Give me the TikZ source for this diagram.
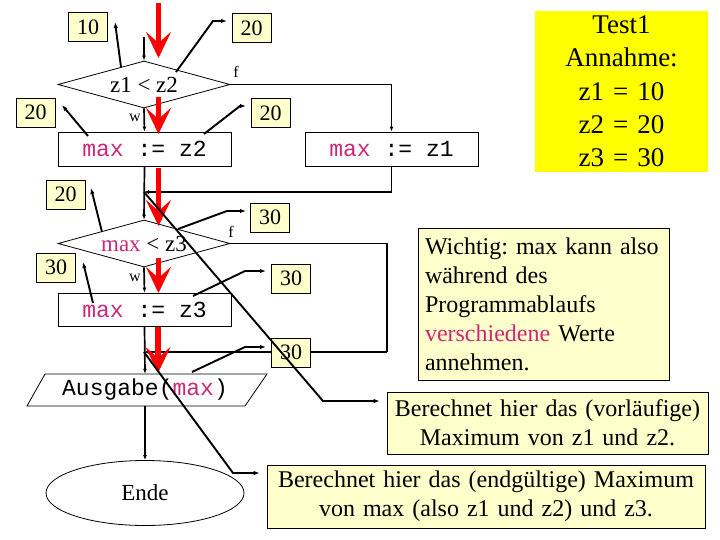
\documentclass[tikz,border=0pt]{standalone}
\usepackage{fontspec}
\setmainfont{Liberation Serif}
\setmonofont{Liberation Mono}
\usetikzlibrary{shapes.geometric,arrows.meta,calc}
\definecolor{mag}{RGB}{204,40,120}
\definecolor{pale}{RGB}{255,255,204}
\definecolor{yel}{RGB}{255,255,0}
\begin{document}
\begin{tikzpicture}[x=1pt,y=-1pt,
  flow/.style={line width=1.7pt,-{Latex[length=5pt,width=4pt]}},
  plain/.style={line width=1.7pt},
  ptr/.style={line width=1.9pt,-{Latex[length=6pt,width=4.5pt]}},
  redarr/.style={red,line width=5.5pt,-{Stealth[length=26pt,width=25pt,inset=11pt]}},
  numbox/.style={draw,line width=0.8pt,fill=pale,minimum width=39pt,minimum height=29pt,inner sep=0pt,font=\fontsize{22}{26}\selectfont},
  proc/.style={draw,line width=0.8pt,fill=white,minimum width=173pt,minimum height=34pt,inner sep=0pt,font=\ttfamily\fontsize{23}{27}\selectfont},
  dec/.style={draw,line width=0.8pt,diamond,aspect=3.66,minimum width=172pt,minimum height=47pt,inner sep=0pt,font=\fontsize{23}{27}\selectfont},
  lbl/.style={inner sep=0pt,font=\fontsize{16}{18}\selectfont},
  note/.style={draw,line width=0.8pt,fill=pale,inner sep=0pt,font=\frenchspacing\fontsize{24}{29}\selectfont}
]
\useasboundingbox (0,0) rectangle (720,540);

% main shapes
\node[dec] (d1) at (144,84.5) {z1 < z2};
\node[proc] (b2) at (144.5,149) {\textcolor{mag}{max} := z2};
\node[proc] (b1) at (391.5,149) {\textcolor{mag}{max} := z1};
\node[dec] (d2) at (144,243.5) {\textcolor{mag}{max} < z3};
\node[proc,minimum height=33pt] (b3) at (144.5,309.5) {\textcolor{mag}{max} := z3};
\node[inner sep=0pt,minimum width=200pt,minimum height=32pt,font=\ttfamily\fontsize{23}{27}\selectfont] (aus) at (145,390) {Ausgabe(\textcolor{mag}{max})};
\draw[line width=0.8pt] ([shift={(-100,-16)}]aus.center) -- ([shift={(122,-16)}]aus.center) -- ([shift={(100,16)}]aus.center) -- ([shift={(-118,16)}]aus.center) -- cycle;
\node[draw,line width=0.8pt,ellipse,minimum width=198pt,minimum height=65pt,inner sep=0pt,font=\fontsize{23}{27}\selectfont] (ende) at (145,493) {Ende};

% labels
\node[lbl] (f1) at (236,72) {f};
\node[lbl] (f2) at (231,232) {f};
\node[lbl] (w1) at (135,118) {w};
\node[lbl] (w2) at (135,278) {w};

% flow coordinates
\coordinate (start) at (144,37);
\coordinate (j1) at (144,192);
\coordinate (j2) at (144,352);
\coordinate (r2) at (387,352);

% flow lines
\draw[flow] (start) -- (d1.north);
\draw[flow] (d1.east) -| (b1.north);
\draw[flow] (d1.south) -- (b2.north);
\draw[flow] (b1.south) |- (j1);
\draw[flow] (b2.south) -- (d2.north);
\draw[plain] (d2.east) -| (r2);
\draw[flow] (r2) -- (j2);
\draw[flow] (d2.south) -- (b3.north);
\draw[flow] (b3.south) -- (aus.north);
\draw[flow] (aus.south) -- (ende.north);

% value boxes
\node[numbox] (n10) at (88,27) {10};
\node[numbox] (n20a) at (251.5,28) {20};
\node[numbox] (n20b) at (35.5,112.5) {20};
\node[numbox] (n20c) at (270.5,113) {20};
\node[numbox] (n20d) at (65.5,194.5) {20};
\node[numbox] (n30a) at (270,217.5) {30};
\node[numbox] (n30b) at (56,267.5) {30};
\node[numbox] (n30c) at (291,278.5) {30};
\node[numbox] (n30d) at (291,352.5) {30};

% notes
\node[fill=yel,inner sep=0pt,minimum width=173pt,minimum height=161pt,text width=173pt,align=center,font=\fontsize{27}{33.3}\selectfont] (test) at (621.5,91.5) {Test1\\Annahme:\\z1 = 10\\z2 = 20\\z3 = 30};
\node[note,inner xsep=7pt,text width=237pt,minimum height=152pt,align=left] (wich) at (543.5,304) {Wichtig: max kann also\\während des\\Programmablaufs\\\textcolor{mag}{verschiedene} Werte\\annehmen.};
\node[note,minimum width=321pt,minimum height=62pt,text width=321pt,align=center] (ber1) at (547.5,423) {Berechnet hier das (vorläufige)\\Maximum von z1 und z2.};
\node[note,minimum width=438pt,minimum height=63pt,text width=438pt,align=center] (ber2) at (486,496.5) {Berechnet hier das (endgültige) Maximum\\von max (also z1 und z2) und z3.};

% red arrows
\coordinate (ra1) at (158.5,3);   \coordinate (rb1) at (158.5,58);
\coordinate (ra2) at (158.5,97);  \coordinate (rb2) at (158.5,134);
\coordinate (ra3) at (158.5,168); \coordinate (rb3) at (158.5,226);
\coordinate (ra4) at (158.5,258); \coordinate (rb4) at (158.5,293);
\coordinate (ra5) at (158,327);   \coordinate (rb5) at (158,373);
\draw[redarr] (ra1) -- (rb1);
\draw[redarr] (ra2) -- (rb2);
\draw[redarr] (ra3) -- (rb3);
\draw[redarr] (ra4) -- (rb4);
\draw[redarr] (ra5) -- (rb5);

% pointer lines
\coordinate (p1) at (121,67);  \coordinate (q1) at (115,22);
\coordinate (p2) at (176,72);  \coordinate (q2) at (227,21);
\coordinate (p3) at (88,136);  \coordinate (q3) at (62,105);
\coordinate (p4) at (204,134); \coordinate (q4) at (246,106);
\coordinate (p5) at (102,232); \coordinate (q5) at (91,188);
\coordinate (p6) at (178,229); \coordinate (q6) at (246,211);
\coordinate (p7) at (93,303);  \coordinate (q7) at (83,262);
\coordinate (p8) at (193,296); \coordinate (q8) at (266,271);
\coordinate (p9) at (192,372); \coordinate (q9) at (266,347);
\draw[ptr] (p1) -- (q1);
\draw[ptr] (p2) -- (213,21) -- (q2);
\draw[ptr] (p3) -- (q3);
\draw[ptr] (p4) -- (240,106) -- (q4);
\draw[ptr] (p5) -- (q5);
\draw[ptr] (p6) -- (227,211) -- (q6);
\draw[ptr] (p7) -- (q7);
\draw[ptr] (p8) -- (245,271) -- (q8);
\draw[ptr] (p9) -- (245,347) -- (q9);
\draw[ptr,shorten >=7pt] (j1) -- (323,401) -- ([yshift=22pt]ber1.west);
\draw[ptr,shorten >=7pt] (j2) -- (233,473) -- ([yshift=23.5pt]ber2.west);
\end{tikzpicture}
\end{document}
